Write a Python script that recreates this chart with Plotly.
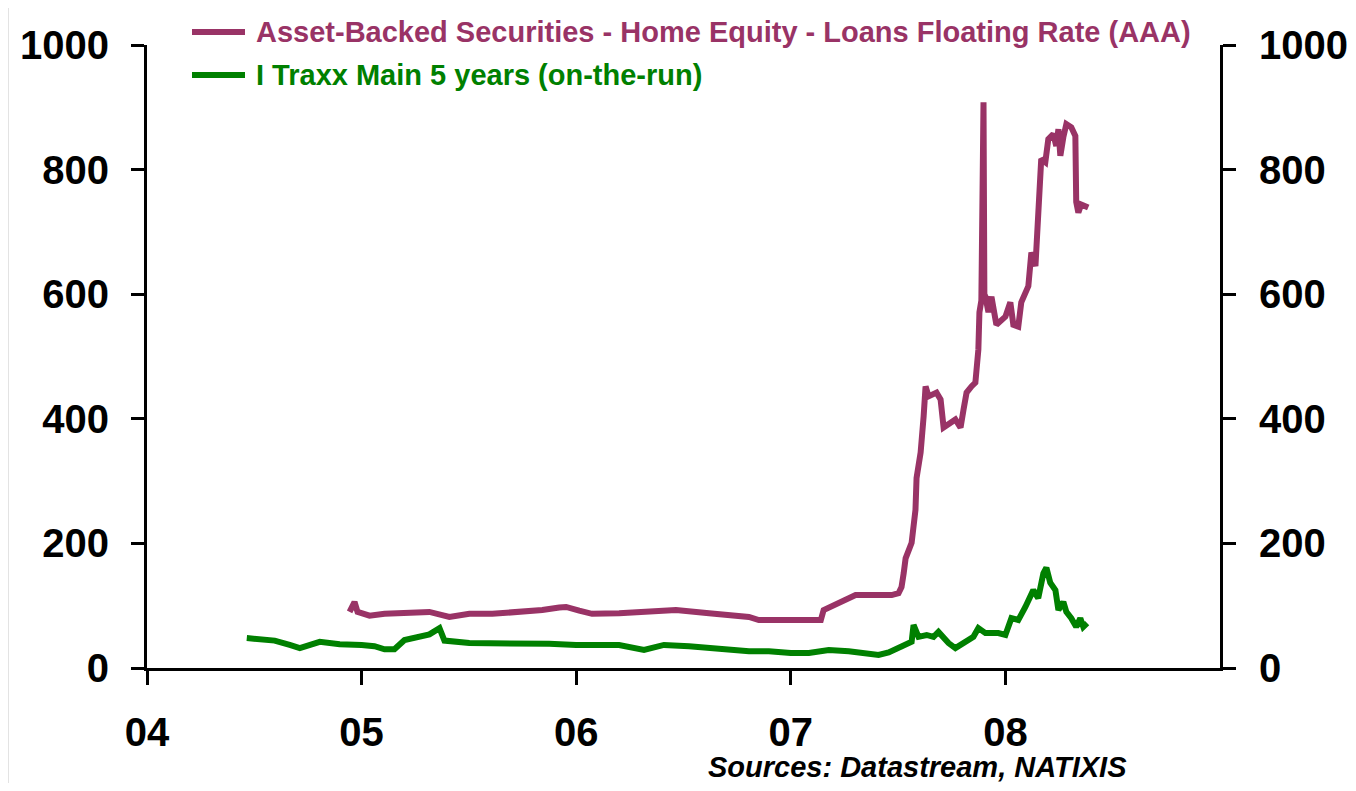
import plotly.graph_objects as go

# ---- Data (decimal years, spread in bp) ----
abs_years = [2004.944, 2004.967, 2004.981, 2005.037, 2005.107, 2005.177, 2005.223, 2005.316,
             2005.409, 2005.502, 2005.609, 2005.735, 2005.842, 2005.921, 2005.953, 2006.014,
             2006.074, 2006.200, 2006.307, 2006.465, 2006.619, 2006.758, 2006.805, 2006.851,
             2007.005, 2007.084, 2007.140, 2007.153, 2007.223, 2007.302, 2007.363, 2007.470,
             2007.502, 2007.516, 2007.526, 2007.535, 2007.563, 2007.581, 2007.586, 2007.605,
             2007.619, 2007.628, 2007.642, 2007.679, 2007.698, 2007.712, 2007.767, 2007.791,
             2007.805, 2007.819, 2007.842, 2007.860, 2007.874, 2007.879, 2007.888, 2007.898,
             2007.902, 2007.907, 2007.921, 2007.935, 2007.958, 2008.000, 2008.023, 2008.037,
             2008.060, 2008.074, 2008.107, 2008.121, 2008.140, 2008.153, 2008.167, 2008.186,
             2008.200, 2008.223, 2008.237, 2008.247, 2008.256, 2008.270, 2008.284, 2008.307,
             2008.326, 2008.330, 2008.340, 2008.353, 2008.386]
abs_values = [90, 106, 90, 84, 87, 88, 90, 90,
              82, 87, 87, 90, 93, 97, 98, 92,
              87, 88, 90, 93, 88, 85, 82, 77,
              77, 77, 77, 93, 104, 117, 117, 117,
              120, 130, 152, 176, 201, 254, 305, 346,
              404, 452, 436, 442, 431, 386, 399, 386,
              415, 442, 452, 458, 511, 571, 590, 908,
              600, 596, 571, 596, 551, 564, 587, 551,
              548, 587, 613, 667, 645, 741, 817, 812,
              849, 857, 838, 865, 822, 852, 873, 868,
              854, 748, 731, 744, 739]

itraxx_years = [2004.465, 2004.526, 2004.595, 2004.665, 2004.712, 2004.805, 2004.898, 2005.000,
                2005.060, 2005.107, 2005.153, 2005.200, 2005.270, 2005.316, 2005.363, 2005.386,
                2005.502, 2005.642, 2005.753, 2005.874, 2006.000, 2006.107, 2006.200, 2006.316,
                2006.409, 2006.526, 2006.619, 2006.712, 2006.805, 2006.898, 2007.000, 2007.084,
                2007.177, 2007.270, 2007.363, 2007.409, 2007.456, 2007.516, 2007.549, 2007.563,
                2007.572, 2007.595, 2007.633, 2007.665, 2007.688, 2007.735, 2007.767, 2007.805,
                2007.851, 2007.874, 2007.907, 2007.967, 2008.000, 2008.028, 2008.060, 2008.093,
                2008.130, 2008.153, 2008.177, 2008.191, 2008.209, 2008.233, 2008.247, 2008.270,
                2008.284, 2008.307, 2008.330, 2008.349, 2008.363, 2008.381]
itraxx_values = [48, 46, 44, 37, 32, 42, 38, 37,
                 35, 30, 30, 45, 50, 54, 64, 44,
                 40, 40, 40, 39, 37, 38, 37, 29,
                 37, 35, 32, 30, 27, 27, 24, 24,
                 29, 27, 24, 21, 25, 34, 38, 42,
                 69, 50, 53, 50, 58, 40, 32, 40,
                 50, 64, 56, 56, 53, 80, 77, 98,
                 125, 112, 152, 161, 137, 125, 93, 106,
                 90, 80, 66, 80, 66, 72]

tick_years = [2004, 2005, 2006, 2007, 2008]
tick_labels = ["04", "05", "06", "07", "08"]
abs_name = "Asset-Backed Securities - Home Equity - Loans Floating Rate (AAA)"
itraxx_name = "I Traxx Main 5 years (on-the-run)"
source_text = "Sources: Datastream, NATIXIS"

MAROON = "#993366"
GREEN = "#008000"
FONT = "Liberation Sans, Arial, sans-serif"

fig = go.Figure()
fig.add_trace(go.Scatter(x=abs_years, y=abs_values, mode="lines", name=abs_name,
                         line=dict(color=MAROON, width=6), showlegend=False))
fig.add_trace(go.Scatter(x=itraxx_years, y=itraxx_values, mode="lines", name=itraxx_name,
                         line=dict(color=GREEN, width=6), showlegend=False, yaxis="y2"))

# page has an 8px body margin; figure sized to fit inside it
OFF = 8
W, H = 1356 - 2 * OFF, 791 - 2 * OFF
PL, PR, PT, PB = 147, 1220, 45, 668          # plot area in page pixels
L, T = PL - OFF, PT - OFF
R, B = W - (PR - OFF), H - (PB - OFF)
pw, ph = PR - PL, PB - PT


def px(x):
    return (x - PL) / pw


def py(y):
    return (PB - y) / ph


tickfont = dict(family=FONT, size=40, color="black", weight="bold")
axis_common = dict(showline=True, linewidth=3, linecolor="black", ticks="outside",
                   tickwidth=3, tickcolor="black", showgrid=False, zeroline=False,
                   tickfont=tickfont, automargin=False)

fig.update_layout(
    width=W, height=H,
    margin=dict(l=L, r=R, t=T, b=B, autoexpand=False),
    paper_bgcolor="white", plot_bgcolor="white",
    xaxis=dict(range=[2004, 2009], tickvals=tick_years, ticktext=tick_labels,
               ticklen=14, ticklabelstandoff=13, **axis_common),
    yaxis=dict(range=[0, 1000], dtick=200, ticklen=13, ticklabelstandoff=14, **axis_common),
    yaxis2=dict(range=[0, 1000], dtick=200, ticklen=13, ticklabelstandoff=15,
                overlaying="y", side="right", **axis_common),
    showlegend=False,
)

shapes = [
    # manual legend line samples
    dict(type="line", xref="paper", yref="paper", x0=px(192), x1=px(245), y0=py(32), y1=py(32),
         line=dict(color=MAROON, width=6)),
    dict(type="line", xref="paper", yref="paper", x0=px(192), x1=px(245), y0=py(75), y1=py(75),
         line=dict(color=GREEN, width=6)),
    # frame lines
    dict(type="line", xref="paper", yref="paper", x0=px(8), x1=px(1348), y0=py(7), y1=py(7),
         line=dict(color="#c8c8c8", width=1)),
    dict(type="line", xref="paper", yref="paper", x0=px(8), x1=px(8), y0=py(7), y1=py(783),
         line=dict(color="#c8c8c8", width=1)),
]
fig.update_layout(shapes=shapes)

legfont = dict(family=FONT, size=29, weight="bold")
fig.add_annotation(x=px(254), y=py(32), xref="paper", yref="paper", text=abs_name,
                   showarrow=False, xanchor="left", yanchor="middle",
                   font=dict(color=MAROON, **legfont))
fig.add_annotation(x=px(254), y=py(75), xref="paper", yref="paper", text=itraxx_name,
                   showarrow=False, xanchor="left", yanchor="middle",
                   font=dict(color=GREEN, **legfont))
fig.add_annotation(x=px(706), y=py(767), xref="paper", yref="paper", text=source_text,
                   showarrow=False, xanchor="left", yanchor="middle",
                   font=dict(family=FONT, size=29, weight="bold", style="italic", color="black"))

fig.write_html("out.html")
